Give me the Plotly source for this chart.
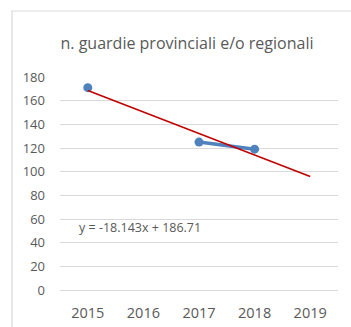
import plotly.graph_objects as go

# Category axis (years) and observed counts; 2016 and 2019 have no observation
years = ["2015", "2016", "2017", "2018", "2019"]
guardie = [171, None, 125, 119, None]

# Linear trend on the category index (1..5)
trend_slope = -18.143
trend_intercept = 186.71

y_ticks = [0, 20, 40, 60, 80, 100, 120, 140, 160, 180]

idx = list(range(1, len(years) + 1))
trend_y = [trend_slope * i + trend_intercept for i in idx]

text_color = "#595959"
grid_color = "#D9D9D9"
font_family = "Open Sans, Liberation Sans, sans-serif"

fig = go.Figure()

fig.add_trace(go.Scatter(
    x=idx, y=guardie,
    mode="lines+markers",
    connectgaps=False,
    line=dict(color="#4F81BD", width=3.5),
    marker=dict(color="#4F81BD", size=9),
    showlegend=False,
    hoverinfo="skip",
))

fig.add_trace(go.Scatter(
    x=[idx[0], idx[-1]], y=[trend_y[0], trend_y[-1]],
    mode="lines",
    line=dict(color="#C00000", width=1.6),
    showlegend=False,
    hoverinfo="skip",
))

fig.update_layout(
    width=351, height=327,
    margin=dict(l=60, r=13, t=77, b=37, autoexpand=False),
    paper_bgcolor="white",
    plot_bgcolor="white",
    font=dict(family=font_family, color=text_color),
    title=dict(
        text="n. guardie provinciali e/o regionali",
        x=(187 / 351), xanchor="center",
        y=1 - 43 / 327, yanchor="middle",
        font=dict(size=16, color=text_color, family=font_family),
    ),
    xaxis=dict(
        range=[0.5, 5.5],
        tickvals=idx, ticktext=years,
        showgrid=False, zeroline=False, showline=False,
        ticks="", tickfont=dict(size=14.5, color=text_color),
        ticklabelstandoff=12,
        automargin=False,
        fixedrange=True,
    ),
    yaxis=dict(
        range=[0, 180],
        tickvals=y_ticks,
        showgrid=True, gridcolor=grid_color, gridwidth=1,
        zeroline=True, zerolinecolor=grid_color, zerolinewidth=1,
        showline=False, ticks="",
        tickfont=dict(size=13, color=text_color),
        ticklabelstandoff=14,
        automargin=False,
        fixedrange=True,
    ),
    shapes=[dict(
        type="rect", xref="paper", yref="paper",
        x0=(12 - 60) / 278, x1=(353 - 60) / 278,
        y0=(290 - 330) / 213, y1=(290 - 11) / 213,
        line=dict(color="#D9D9D9", width=1.2),
        fillcolor="rgba(0,0,0,0)", layer="below",
    )],
    annotations=[dict(
        x=0.8, xref="x", xanchor="left",
        y=52.5, yref="y", yanchor="middle",
        text=f"y = {trend_slope}x + {trend_intercept}",
        showarrow=False,
        font=dict(size=12.5, color=text_color, family=font_family),
    )],
)

fig.write_html("out.html")
